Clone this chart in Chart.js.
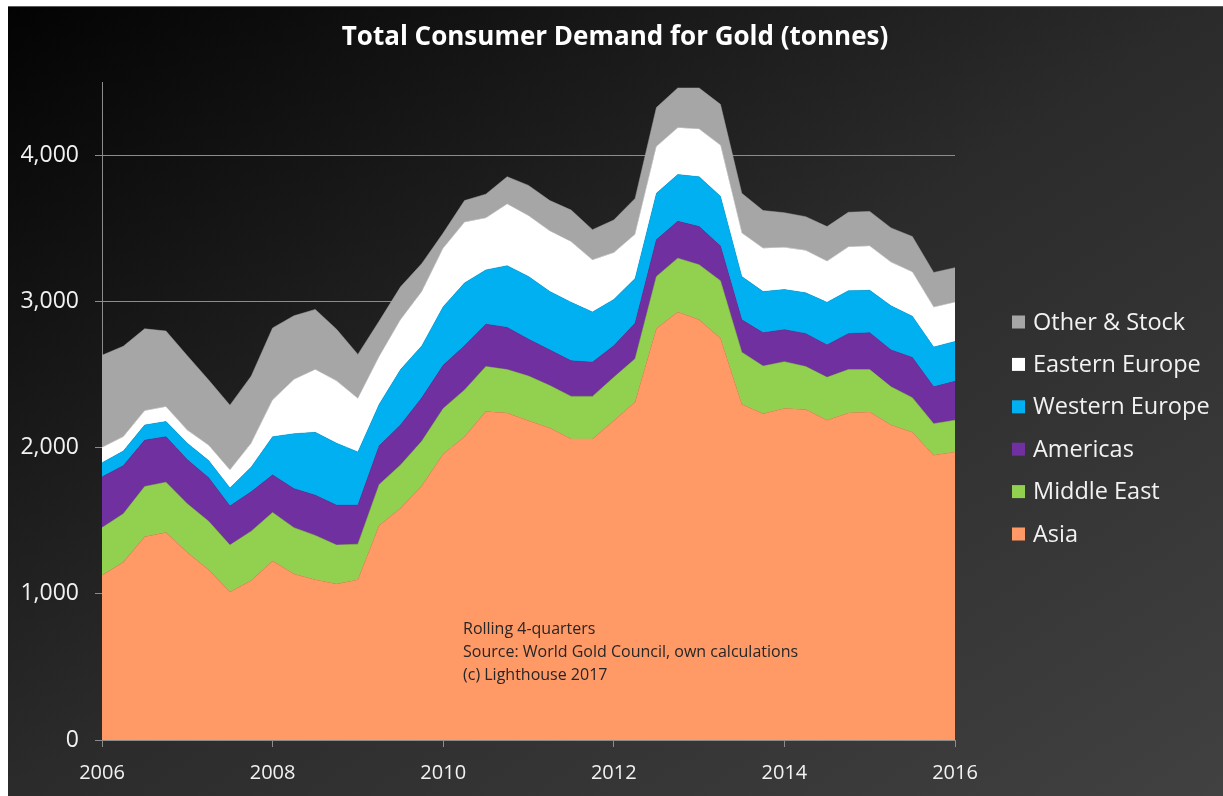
<!DOCTYPE html>
<html>
<head>
<meta charset="utf-8">
<script src="https://cdn.jsdelivr.net/npm/chart.js@4.4.1/dist/chart.umd.min.js"></script>
<style>
  html, body { margin: 0; padding: 0; background: #ffffff; }
  #wrap { width: 1223px; height: 796px; position: relative; }
  canvas { display: block; }
</style>
</head>
<body>
<div id="wrap"><canvas id="c" width="1223" height="796"></canvas></div>
<script>
// ---- Data (tonnes, rolling 4-quarters) ----
const quarters = [
  '2006 Q1','2006 Q2','2006 Q3','2006 Q4',
  '2007 Q1','2007 Q2','2007 Q3','2007 Q4',
  '2008 Q1','2008 Q2','2008 Q3','2008 Q4',
  '2009 Q1','2009 Q2','2009 Q3','2009 Q4',
  '2010 Q1','2010 Q2','2010 Q3','2010 Q4',
  '2011 Q1','2011 Q2','2011 Q3','2011 Q4',
  '2012 Q1','2012 Q2','2012 Q3','2012 Q4',
  '2013 Q1','2013 Q2','2013 Q3','2013 Q4',
  '2014 Q1','2014 Q2','2014 Q3','2014 Q4',
  '2015 Q1','2015 Q2','2015 Q3','2015 Q4',
  '2016 Q1'
];
const yearLabels = ['2006','2008','2010','2012','2014','2016'];
const yTickValues = [0, 1000, 2000, 3000, 4000];

const asia = [1126,1215,1390,1419,1283,1164,1013,1090,1224,1135,1096,1067,1096,1467,1585,1739,1956,2074,2246,2237,2184,2133,2059,2059,2184,2311,2815,2927,2874,2747,2296,2231,2267,2261,2187,2237,2243,2154,2104,1947,1970];
const middleEast = [326,332,343,344,332,332,320,338,332,317,303,266,243,281,296,305,311,320,308,296,305,291,291,291,296,296,355,368,376,394,356,326,320,293,293,296,290,261,237,216,217];
const americas = [347,329,317,311,302,297,267,270,257,267,275,273,267,264,273,297,296,302,290,288,252,243,243,234,216,243,252,252,261,237,222,228,219,225,222,246,252,252,275,252,266];
const westernEurope = [97,100,104,104,113,118,124,169,261,376,430,424,364,284,379,355,400,430,371,423,429,400,400,343,317,306,317,320,341,341,296,282,275,279,291,294,291,302,282,272,273];
const easternEurope = [104,98,98,101,89,104,122,163,252,370,429,426,365,326,341,371,400,415,355,421,415,414,414,356,320,302,320,320,326,349,297,296,288,290,281,299,302,299,302,273,267];
const otherStock = [631,619,560,518,509,447,444,459,492,436,412,353,302,243,225,192,104,148,163,187,208,208,217,207,223,246,267,272,281,279,272,258,237,231,237,237,237,234,243,237,237];

const seriesNames = ['Asia','Middle East','Americas','Western Europe','Eastern Europe','Other & Stock'];
const seriesColors = ['#FF9966','#92D050','#7030A0','#00B0F0','#FFFFFF','#A6A6A6'];
const seriesData = [asia, middleEast, americas, westernEurope, easternEurope, otherStock];

const chartTitle = 'Total Consumer Demand for Gold (tonnes)';
const noteLines = ['Rolling 4-quarters','Source: World Gold Council, own calculations','(c) Lighthouse 2017'];

const FONT = "'Open Sans', 'DejaVu Sans', sans-serif";

// ---- Plugins ----
const backgroundPlugin = {
  id: 'bg',
  beforeDraw(chart) {
    const ctx = chart.ctx;
    const W = chart.width, H = chart.height;
    ctx.save();
    ctx.fillStyle = '#ffffff';
    ctx.fillRect(0, 0, W, H);
    ctx.translate(8, 6);
    ctx.scale(W - 8, H - 6);
    const g = ctx.createLinearGradient(0, 0, 1, 1);
    g.addColorStop(0, '#030303');
    g.addColorStop(0.5, '#2b2b2b');
    g.addColorStop(1, '#414141');
    ctx.fillStyle = g;
    ctx.fillRect(0, 0, 1, 1);
    ctx.restore();
    ctx.save();
    ctx.fillStyle = '#5a5a5a';
    ctx.fillRect(8, 6, W - 8, 1);
    ctx.restore();
  }
};

const titlePlugin = {
  id: 'pageTitle',
  afterDraw(chart) {
    const ctx = chart.ctx;
    ctx.save();
    ctx.font = 'bold 26px ' + FONT;
    ctx.fillStyle = '#ffffff';
    ctx.textAlign = 'center';
    ctx.textBaseline = 'middle';
    ctx.fillText(chartTitle, 615, 38);
    ctx.restore();
  }
};

const legendPlugin = {
  id: 'sideLegend',
  afterDraw(chart) {
    const ctx = chart.ctx;
    const ds = chart.data.datasets;
    const x0 = 1012, y0 = 322, step = 42.4, box = 13;
    ctx.save();
    ctx.font = '23.5px ' + FONT;
    ctx.textBaseline = 'middle';
    ctx.textAlign = 'left';
    for (let k = 0; k < ds.length; k++) {
      const d = ds[ds.length - 1 - k];
      const y = y0 + k * step;
      ctx.fillStyle = d.backgroundColor;
      ctx.fillRect(x0, y - box / 2, box, box);
      ctx.fillStyle = '#f2f2f2';
      ctx.fillText(d.label, x0 + 21, y + 1);
    }
    ctx.restore();
  }
};

const notePlugin = {
  id: 'note',
  afterDatasetsDraw(chart) {
    const ctx = chart.ctx;
    ctx.save();
    ctx.font = '16px ' + FONT;
    ctx.fillStyle = '#262626';
    ctx.textBaseline = 'middle';
    ctx.textAlign = 'left';
    noteLines.forEach((t, i) => ctx.fillText(t, 463, 629 + i * 23));
    ctx.restore();
  }
};

// ---- Chart ----
const datasets = seriesData.map((arr, i) => ({
  label: seriesNames[i],
  data: arr,
  backgroundColor: seriesColors[i],
  borderColor: seriesColors[i],
  borderWidth: 0.5,
  pointRadius: 0,
  pointHoverRadius: 0,
  tension: 0,
  fill: i === 0 ? 'origin' : '-1'
}));

new Chart(document.getElementById('c'), {
  type: 'line',
  data: { labels: quarters, datasets },
  plugins: [backgroundPlugin, notePlugin, legendPlugin, titlePlugin],
  options: {
    responsive: false,
    animation: false,
    devicePixelRatio: 1,
    layout: { padding: { left: 0, right: 268, top: 82, bottom: 0 } },
    plugins: {
      legend: { display: false },
      tooltip: { enabled: false },
      title: { display: false }
    },
    scales: {
      x: {
        type: 'category',
        offset: false,
        grid: { display: true, drawOnChartArea: false, drawTicks: true, tickLength: 7, color: '#8c8c8c' },
        border: { display: true, color: '#8c8c8c', width: 1 },
        ticks: {
          autoSkip: false,
          maxRotation: 0,
          color: '#f2f2f2',
          font: { family: FONT, size: 20 },
          padding: 14,
          callback: function (v) {
            const lab = this.getLabelForValue(v);
            const yr = lab.slice(0, 4);
            return (lab.endsWith('Q1') && yearLabels.includes(yr)) ? yr : null;
          }
        },
        afterFit: (s) => { s.height = 56; }
      },
      y: {
        stacked: true,
        min: 0,
        max: 4500,
        grid: { color: '#8c8c8c', lineWidth: 1, tickLength: 7, drawTicks: true },
        border: { display: true, color: '#8c8c8c', width: 1 },
        ticks: {
          stepSize: 500,
          color: '#f2f2f2',
          font: { family: FONT, size: 23 },
          padding: 16,
          callback: (v) => yTickValues.includes(v) ? v.toLocaleString('en-US') : null
        },
        afterFit: (s) => { s.width = 102; }
      }
    }
  }
});
</script>
</body>
</html>
